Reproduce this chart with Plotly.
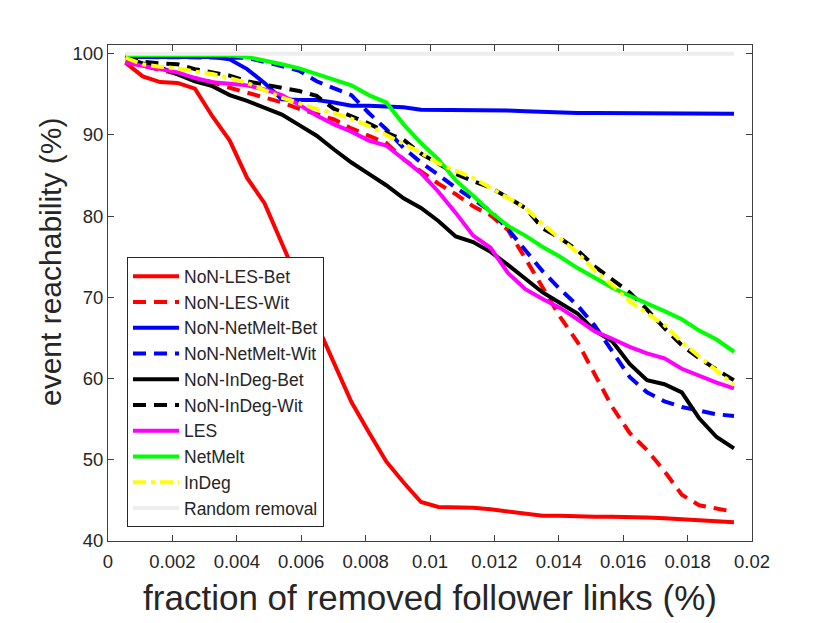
import plotly.graph_objects as go

# fraction of removed follower links (%)
frac = [0.00054, 0.00108, 0.00162, 0.00216, 0.0027, 0.00324, 0.00378, 0.00432,
        0.00486, 0.0054, 0.00594, 0.00648, 0.00702, 0.00756, 0.0081, 0.00864,
        0.00918, 0.00972, 0.01026, 0.0108, 0.01134, 0.01188, 0.01242, 0.01296,
        0.0135, 0.01404, 0.01458, 0.01512, 0.01566, 0.0162, 0.01674, 0.01728,
        0.01782, 0.01836, 0.0189, 0.01944]

# event reachability (%) per method
non_les_bet = [98.9, 97.2, 96.5, 96.4, 95.7, 92.3, 89.3, 84.7, 81.6, 76.5, 71.7, 66.7,
               61.9, 57.1, 53.4, 49.8, 47.2, 44.8, 44.2, 44.2, 44.1, 43.9, 43.6, 43.3,
               43.1, 43.1, 43.0, 43.0, 43.0, 43.0, 42.9, 42.8, 42.7, 42.5, 42.5, 42.3]
non_les_wit = [99.0, 98.5, 98.0, 97.5, 97.0, 96.5, 95.8, 95.2, 94.7, 94.0, 93.2, 92.5,
               91.9, 90.8, 89.9, 89.0, 87.0, 85.5, 84.0, 82.7, 81.2, 80.1, 78.3, 74.8,
               71.3, 67.6, 64.5, 60.5, 56.5, 53.3, 51.2, 48.6, 45.7, 44.4, 44.0, 43.6]
non_netmelt_bet = [99.6, 99.6, 99.6, 99.6, 99.6, 99.6, 99.3, 98.1, 96.4, 94.4, 94.3, 94.3,
                   94.0, 93.6, 93.6, 93.5, 93.4, 93.1, 93.1, 93.1, 93.1, 93.1, 93.0, 92.9,
                   92.8, 92.7, 92.7, 92.7, 92.7, 92.7, 92.7, 92.7, 92.7, 92.7, 92.6, 92.6]
non_netmelt_wit = [99.6, 99.6, 99.6, 99.6, 99.6, 99.6, 99.6, 99.5, 99.0, 98.4, 97.9, 96.6,
                   95.8, 94.9, 92.7, 90.7, 88.4, 86.6, 85.1, 83.5, 82.1, 80.6, 78.4, 75.8,
                   73.2, 71.0, 69.0, 66.5, 63.3, 60.2, 58.3, 57.2, 56.5, 56.0, 55.6, 55.4]
non_indeg_bet = [99.5, 98.8, 98.3, 97.5, 96.6, 96.0, 94.9, 94.2, 93.4, 92.5, 91.2, 89.9,
                 88.2, 86.6, 85.2, 83.8, 82.2, 81.0, 79.4, 77.5, 76.8, 75.6, 74.0, 72.3,
                 70.6, 69.3, 68.0, 65.9, 64.6, 61.8, 59.8, 59.3, 58.3, 55.1, 52.8, 51.4]
non_indeg_wit = [99.7, 99.0, 98.8, 98.7, 98.1, 97.7, 97.3, 96.6, 96.2, 95.8, 95.4, 94.8,
                 93.2, 92.3, 91.4, 90.3, 89.4, 87.7, 86.4, 85.2, 84.3, 83.5, 82.3, 81.0,
                 78.5, 77.3, 75.8, 73.8, 72.2, 70.6, 68.5, 66.2, 64.1, 62.5, 61.1, 59.8]
les = [98.9, 98.5, 98.2, 97.7, 97.0, 96.5, 96.3, 96.1, 95.6, 94.9, 93.7, 92.4,
       91.3, 90.4, 89.3, 88.7, 87.0, 85.3, 83.0, 80.4, 77.6, 76.1, 73.0, 71.0,
       69.8, 68.7, 67.3, 65.8, 64.9, 63.9, 63.1, 62.5, 61.2, 60.3, 59.5, 58.8]
netmelt = [99.8, 99.8, 99.8, 99.8, 99.8, 99.8, 99.8, 99.6, 99.2, 98.7, 98.2, 97.5,
           96.9, 96.1, 94.9, 94.0, 91.3, 89.0, 87.0, 84.4, 82.5, 80.5, 78.8, 77.6,
           76.2, 75.0, 73.6, 72.4, 71.2, 70.2, 69.3, 68.3, 67.3, 65.9, 64.8, 63.3]
indeg = [99.5, 98.7, 98.4, 98.2, 97.8, 97.5, 97.0, 96.4, 95.5, 94.6, 93.9, 93.2,
         92.7, 92.0, 91.1, 90.0, 88.8, 87.8, 86.5, 85.6, 84.7, 83.5, 82.3, 81.0,
         79.0, 77.3, 75.5, 73.3, 71.5, 69.5, 68.0, 66.6, 64.5, 62.7, 61.0, 59.2]
random_removal = [100.0] * len(frac)

xtick_vals = [0, 0.002, 0.004, 0.006, 0.008, 0.01, 0.012, 0.014, 0.016, 0.018, 0.02]
xtick_text = ['0', '0.002', '0.004', '0.006', '0.008', '0.01', '0.012', '0.014',
              '0.016', '0.018', '0.02']
ytick_vals = [40, 50, 60, 70, 80, 90, 100]

DASH = '13px,8px'
DASHDOT = '13px,5px,4px,5px'

series = [
    ('NoN-LES-Bet', non_les_bet, '#ff0000', 'solid'),
    ('NoN-LES-Wit', non_les_wit, '#ff0000', DASH),
    ('NoN-NetMelt-Bet', non_netmelt_bet, '#0000ff', 'solid'),
    ('NoN-NetMelt-Wit', non_netmelt_wit, '#0000ff', DASH),
    ('NoN-InDeg-Bet', non_indeg_bet, '#000000', 'solid'),
    ('NoN-InDeg-Wit', non_indeg_wit, '#000000', DASH),
    ('LES', les, '#ff00ff', 'solid'),
    ('NetMelt', netmelt, '#00ff00', 'solid'),
    ('InDeg', indeg, '#ffff00', DASHDOT),
    ('Random removal', random_removal, '#eeeeee', 'solid'),
]

fig = go.Figure()
for name, ys, col, dash in series:
    fig.add_trace(go.Scatter(x=frac, y=ys, mode='lines', name=name,
                             line=dict(color=col, width=4, dash=dash)))

font = 'Liberation Sans, Arial, sans-serif'
axis_common = dict(
    showgrid=False, zeroline=False, showline=True, linecolor='#404040', linewidth=1,
    mirror='ticks', ticks='inside', ticklen=6, tickcolor='#404040', automargin=False,
    tickfont=dict(family=font, size=18.5, color='#262626'),
)
# the page body has an 8px margin, so the margins are shifted to compensate
fig.update_layout(
    width=830, height=623,
    margin=dict(l=100, r=86, t=37, b=90),
    paper_bgcolor='white', plot_bgcolor='white',
    font=dict(family=font, color='#262626'),
    xaxis=dict(range=[0, 0.02], tickvals=xtick_vals, ticktext=xtick_text,
               ticklabelstandoff=4,
               title=dict(text='fraction of removed follower links (%)',
                          font=dict(size=35, color='#262626'), standoff=14),
               **axis_common),
    yaxis=dict(range=[40, 101.07], tickvals=ytick_vals, ticklabelstandoff=0,
               **axis_common),
    legend=dict(x=0.0295, y=0.572, xanchor='left', yanchor='top',
                bgcolor='white', bordercolor='#262626', borderwidth=1,
                font=dict(family=font, size=17.5, color='#262626'),
                itemwidth=46, tracegroupgap=0),
    showlegend=True,
)
fig.add_annotation(text='event reachability (%)', textangle=-90, showarrow=False,
                   xref='paper', yref='paper', x=-0.09, y=0.5625,
                   xanchor='center', yanchor='middle',
                   font=dict(family=font, size=30, color='#262626'))

fig.write_html('out.html')
